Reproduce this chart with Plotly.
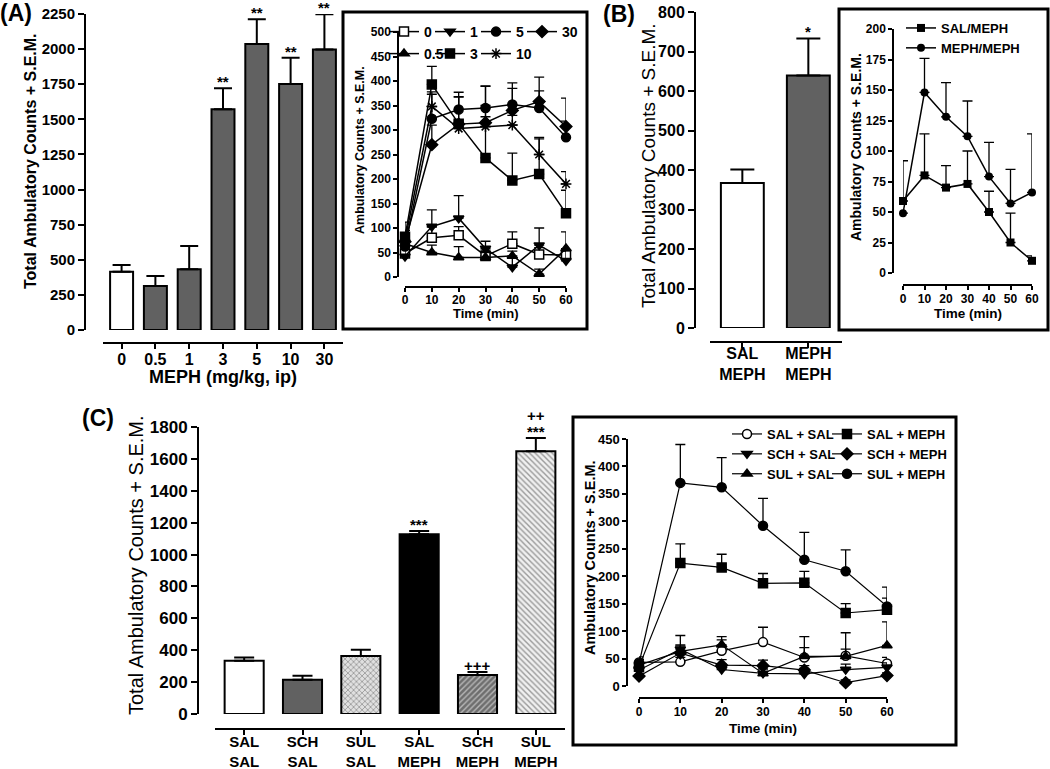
import plotly.graph_objects as go

W, H = 1050, 769
def X(px): return px / W
def Y(py): return 1 - py / H

FONT = "Liberation Sans, Arial, sans-serif"

# ---------------- Panel A : dose response (bars) ----------------
A_doses = ["0", "0.5", "1", "3", "5", "10", "30"]
A_mean = [415, 313, 432, 1571, 2036, 1752, 1998]
A_sem = [48, 72, 166, 150, 176, 187, 250]
A_sig = ["", "", "", "**", "**", "**", "**"]
A_colors = ["white", "#616161", "#616161", "#616161", "#616161", "#616161", "#616161"]

# Panel A inset : time course
times = [0, 10, 20, 30, 40, 50, 60]
A_series = ["0", "1", "5", "30", "0.5", "3", "10"]
A_ts_mean = {
    "0":   [48, 80, 85, 43, 68, 46, 45],
    "0.5": [68, 50, 40, 40, 43, 6, 58],
    "1":   [42, 103, 120, 58, 20, 65, 33],
    "3":   [82, 393, 313, 243, 197, 210, 130],
    "5":   [62, 323, 342, 345, 352, 345, 285],
    "10":  [75, 348, 303, 307, 310, 250, 190],
    "30":  [72, 270, 312, 315, 340, 358, 307],
}
A_ts_sem = {
    "0":   [30, 22, 18, 12, 24, 14, 10],
    "0.5": [10, 15, 22, 10, 10, 10, 34],
    "1":   [20, 34, 46, 15, 20, 35, 20],
    "3":   [30, 37, 55, 146, 56, 75, 47],
    "5":   [20, 50, 35, 45, 44, 35, 33],
    "10":  [20, 30, 15, 20, 20, 32, 25],
    "30":  [15, 40, 55, 35, 45, 50, 58],
}
A_symbols = {"0": "square", "0.5": "triangle-up", "1": "triangle-down", "3": "square",
             "5": "circle", "10": "asterisk-open", "30": "diamond"}
A_fill = {"0": "white", "0.5": "black", "1": "black", "3": "black",
          "5": "black", "10": "black", "30": "black"}
A_row1 = ["0", "1", "5", "30"]

# ---------------- Panel B ----------------
B_groups = ["SAL<br>MEPH", "MEPH<br>MEPH"]
B_mean = [367, 639]
B_sem = [34, 94]
B_sig = ["", "*"]
B_colors = ["white", "#616161"]

B_series = ["SAL/MEPH", "MEPH/MEPH"]
B_ts_mean = {
    "SAL/MEPH":  [59, 80, 70, 73, 50, 25, 10],
    "MEPH/MEPH": [49, 148, 128, 112, 79, 57, 66],
}
B_ts_sem = {
    "SAL/MEPH":  [33, 34, 18, 27, 17, 24, 4],
    "MEPH/MEPH": [0, 28, 28, 29, 28, 28, 48],
}
B_symbols = {"SAL/MEPH": "square", "MEPH/MEPH": "circle"}

# ---------------- Panel C ----------------
C_groups = ["SAL<br>SAL", "SCH<br>SAL", "SUL<br>SAL", "SAL<br>MEPH", "SCH<br>MEPH", "SUL<br>MEPH"]
C_mean = [334, 215, 363, 1128, 244, 1648]
C_sem = [21, 25, 40, 20, 19, 83]
C_sig = ["", "", "", "***", "+++", "***"]
C_sig2 = ["", "", "", "", "", "++"]
C_bg = ["white", "#616161", "#e0e0e0", "black", "#6e6e6e", "#f0f0f0"]
C_pat = ["", "", "x", "", "/", "\\"]
C_fg = ["black", "black", "#8a8a8a", "black", "#1e1e1e", "#8a8a8a"]

C_series_col1 = ["SAL + SAL", "SCH + SAL", "SUL + SAL"]
C_series_col2 = ["SAL + MEPH", "SCH + MEPH", "SUL + MEPH"]
C_ts_mean = {
    "SAL + SAL":  [43, 44, 64, 80, 52, 55, 41],
    "SAL + MEPH": [35, 224, 216, 187, 188, 133, 139],
    "SCH + SAL":  [29, 67, 30, 23, 22, 30, 34],
    "SCH + MEPH": [18, 60, 38, 37, 29, 6, 19],
    "SUL + SAL":  [38, 63, 75, 23, 54, 54, 74],
    "SUL + MEPH": [41, 370, 362, 292, 230, 209, 145],
}
C_ts_sem = {
    "SAL + SAL":  [10, 8, 20, 27, 38, 42, 11],
    "SAL + MEPH": [10, 35, 24, 18, 21, 17, 41],
    "SCH + SAL":  [8, 25, 10, 8, 10, 10, 8],
    "SCH + MEPH": [8, 15, 10, 10, 8, 5, 5],
    "SUL + SAL":  [10, 10, 15, 15, 16, 13, 43],
    "SUL + MEPH": [8, 70, 54, 50, 50, 39, 15],
}
C_symbols = {"SAL + SAL": "circle", "SAL + MEPH": "square", "SCH + SAL": "triangle-down",
             "SCH + MEPH": "diamond", "SUL + SAL": "triangle-up", "SUL + MEPH": "circle"}
C_fill = {"SAL + SAL": "white"}

fig = go.Figure()

def bar_err(sem, width):
    return dict(type="data", symmetric=False, array=sem, arrayminus=[0] * len(sem),
                color="black", thickness=2, width=width)

def line_err(sem, width=5, thick=1.3):
    return dict(type="data", symmetric=False, array=sem, arrayminus=[0] * len(sem),
                color="black", thickness=thick, width=width)

# A bars
fig.add_trace(go.Bar(x=A_doses, y=A_mean, error_y=bar_err(A_sem, 9), width=0.68,
                     marker=dict(color=A_colors, line=dict(color="black", width=2)),
                     xaxis="x", yaxis="y", showlegend=False, hoverinfo="x+y"))
# A inset lines
for name in A_series:
    row1 = name in A_row1
    last = name in ("30", "10")
    fig.add_trace(go.Scatter(
        x=times, y=A_ts_mean[name], mode="lines+markers", name=name,
        line=dict(color="black", width=1.5),
        marker=dict(symbol=A_symbols[name], size=9, color=A_fill[name],
                    line=dict(color="black", width=1.5)),
        error_y=line_err(A_ts_sem[name]), cliponaxis=False,
        xaxis="x2", yaxis="y2",
        legend="legend" if row1 else "legend2",
        legendwidth=30 if last else 1))

# B bars
fig.add_trace(go.Bar(x=B_groups, y=B_mean, error_y=bar_err(B_sem, 12), width=0.65,
                     marker=dict(color=B_colors, line=dict(color="black", width=2)),
                     xaxis="x3", yaxis="y3", showlegend=False))
for name in B_series:
    fig.add_trace(go.Scatter(
        x=times, y=B_ts_mean[name], mode="lines+markers", name=name,
        line=dict(color="black", width=1.5),
        marker=dict(symbol=B_symbols[name], size=8, color="black"),
        error_y=line_err(B_ts_sem[name]), cliponaxis=False,
        xaxis="x4", yaxis="y4", legend="legend3"))

# C bars
fig.add_trace(go.Bar(x=C_groups, y=C_mean, error_y=bar_err(C_sem, 10), width=0.67,
                     marker=dict(color=C_bg, line=dict(color="black", width=2),
                                 pattern=dict(shape=C_pat, fgcolor=C_fg, bgcolor=C_bg,
                                              size=4, solidity=0.35)),
                     xaxis="x5", yaxis="y5", showlegend=False))
for col, lg in [(C_series_col1, "legend4"), (C_series_col2, "legend5")]:
    for name in col:
        fig.add_trace(go.Scatter(
            x=times, y=C_ts_mean[name], mode="lines+markers", name=name,
            line=dict(color="black", width=1.2),
            marker=dict(symbol=C_symbols[name], size=9, color=C_fill.get(name, "black"),
                        line=dict(color="black", width=1.5)),
            error_y=line_err(C_ts_sem[name]), cliponaxis=False,
            xaxis="x6", yaxis="y6", legend=lg))

bold = dict(family=FONT, color="black", weight="bold")

def xax(dom, pos, rng, fs, lw=2, tl=5, cat=False, dtick=None, so=0):
    d = dict(domain=[X(dom[0]), X(dom[1])], anchor="free", position=Y(pos), range=rng,
             showline=True, linewidth=lw, linecolor="black", ticks="outside", ticklen=tl,
             tickwidth=lw, tickcolor="black", showgrid=False, zeroline=False,
             tickfont=dict(bold, size=fs), fixedrange=True, automargin=False,
             ticklabelstandoff=so)
    if cat:
        d["type"] = "category"
    else:
        d.update(tickmode="linear", tick0=0, dtick=dtick)
    return d

def yax(dom, pos, rng, dtick, fs, lw=2, tl=6):
    return dict(domain=[Y(dom[0]), Y(dom[1])], anchor="free", position=X(pos), range=rng,
                tickmode="linear", tick0=0, dtick=dtick,
                showline=True, linewidth=lw, linecolor="black", ticks="outside", ticklen=tl,
                tickwidth=lw, tickcolor="black", showgrid=False, zeroline=False,
                tickfont=dict(bold, size=fs), fixedrange=True, automargin=False)

layout = dict(
    width=W, height=H, margin=dict(l=0, r=0, t=0, b=0, autoexpand=False),
    paper_bgcolor="white", plot_bgcolor="rgba(0,0,0,0)",
    font=dict(family=FONT, color="black"),
    xaxis=xax((103, 343), 343, [-0.55, 6.55], 16, cat=True, so=-3),
    yaxis=yax((330, 14), 85, [0, 2250], 250, 15),
    xaxis2=xax((405, 566), 287, [0, 60], 12, lw=1.5, tl=4, dtick=10, so=-2),
    yaxis2=yax((277, 32), 398, [0, 500], 50, 12, lw=1.5, tl=4),
    xaxis3=xax((710, 842), 342, [-0.49, 1.51], 16, cat=True, so=-8),
    yaxis3=yax((328, 12), 695, [0, 800], 100, 16),
    xaxis4=xax((903, 1032), 285, [0, 60], 12, lw=1.5, tl=4, dtick=10, so=-1),
    yaxis4=yax((273, 29), 893, [0, 200], 25, 12, lw=1.5, tl=4),
    xaxis5=xax((215, 565), 729, [-0.5, 5.5], 15, cat=True, so=-6),
    yaxis5=yax((714, 427), 198, [0, 1800], 200, 17),
    xaxis6=xax((639, 887), 698, [0, 60], 12, lw=1.5, tl=4, dtick=10, so=-1),
    yaxis6=yax((686, 439), 627, [0, 450], 50, 13, lw=1.5, tl=4),
    bargap=0.3,
)

def leg(x, y, fs, horiz=False):
    d = dict(x=X(x), y=Y(y), xanchor="left", yanchor="top", bgcolor="rgba(0,0,0,0)",
             font=dict(bold, size=fs), itemclick=False, itemdoubleclick=False)
    if horiz:
        d.update(orientation="h", entrywidth=1, entrywidthmode="pixels")
    return d

layout["legend"] = leg(384, 16, 14, True)
layout["legend2"] = leg(384, 38, 14, True)
layout["legend3"] = leg(901, 13, 13)
layout["legend4"] = leg(727, 419, 13)
layout["legend5"] = leg(827, 419, 13)

fig.update_layout(**layout)

# inset frames
for (x0, y0, x1, y1) in [(343, 12, 587, 329), (839, 9, 1048, 330), (573, 417, 956, 745)]:
    fig.add_shape(type="rect", xref="paper", yref="paper", x0=X(x0), x1=X(x1),
                  y0=Y(y1), y1=Y(y0), line=dict(color="black", width=3), fillcolor="rgba(0,0,0,0)")

ann = []
def text(x, y, t, fs, angle=0, weight="bold"):
    ann.append(dict(x=X(x), y=Y(y), xref="paper", yref="paper", text=t, showarrow=False,
                    textangle=angle, xanchor="center", yanchor="middle",
                    font=dict(family=FONT, color="black", size=fs, weight=weight)))

text(16, 13, "(A)", 23)
text(619, 14, "(B)", 23)
text(98, 418, "(C)", 23)
text(30, 161, "Total Ambulatory Counts + S.E.M.", 16, -90)
text(223, 377, "MEPH (mg/kg, ip)", 18)
text(360, 150, "Ambulatory Counts + S.E.M.", 12.5, -90)
text(486, 314, "Time (min)", 13)
text(648, 166, "Total Ambulatory Counts + S.E.M.", 19, -90, "normal")
text(856, 147, "Ambulatory Counts + S.E.M.", 14, -90)
text(968, 313, "Time (min)", 13.5)
text(136, 565, "Total Ambulatory Counts + S.E.M.", 20, -90, "normal")
text(590, 558, "Ambulatory Counts + S.E.M.", 14.5, -90)
text(763, 728, "Time (min)", 13.5)

def sig(means, sems, labels, xr, yr, shift, fs=15):
    # x given as category index so numeric-looking category names are not misread
    for i, (m, s, l) in enumerate(zip(means, sems, labels)):
        if l:
            ann.append(dict(x=i, y=m + s, xref=xr, yref=yr, text=l, showarrow=False,
                            yanchor="bottom", yshift=shift,
                            font=dict(family=FONT, color="black", size=fs, weight="bold")))

sig(A_mean, A_sem, A_sig, "x", "y", -4)
sig(B_mean, B_sem, B_sig, "x3", "y3", -4)
sig(C_mean, C_sem, C_sig, "x5", "y5", -4)
sig(C_mean, C_sem, C_sig2, "x5", "y5", 12)

fig.update_layout(annotations=ann)
# remove the browser's default 8px page margin so the figure sits at the window's top-left
fig.write_html("out.html", config={"displayModeBar": False},
               post_script="document.body.style.margin='0px';")
